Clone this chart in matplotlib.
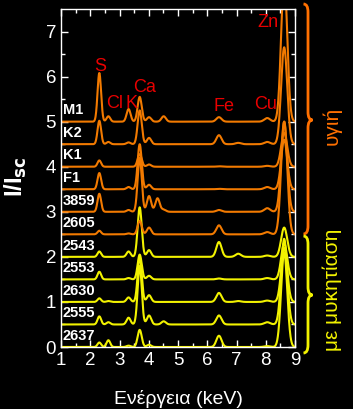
import matplotlib
matplotlib.use('Agg')
import matplotlib.pyplot as plt
from matplotlib.path import Path
from matplotlib.patches import PathPatch
import numpy as np

plt.rcParams['font.family'] = ['Liberation Sans', 'DejaVu Sans']

# sample names, vertical offsets, group
samples = ['M1', 'K2', 'K1', 'F1', '3859', '2605', '2543', '2553', '2630', '2555', '2637']
offsets = [5.0, 4.5, 4.0, 3.5, 3.0, 2.5, 2.0, 1.5, 1.0, 0.5, 0.0]
healthy = [True, True, True, True, True, True, False, False, False, False, False]

# peak energies (keV): S, Cl, K, Ca Ka, Ca Kb, ?, Ti, Fe, Fe Kb, Cu, Zn
peak_energy = [2.31, 2.62, 3.31, 3.69, 4.01, 4.30, 4.51, 6.40, 7.06, 8.05, 8.63]
# peak heights above baseline, one row per sample
peak_height = [
    [1.08, 0.12, 0.28, 0.55, 0.10, 0.00, 0.12, 0.10, 0.00, 0.08, 3.20],  # M1
    [0.52, 0.05, 0.04, 0.75, 0.14, 0.00, 0.00, 0.20, 0.03, 0.05, 2.15],  # K2
    [0.14, 0.00, 0.00, 0.28, 0.05, 0.00, 0.00, 0.01, 0.00, 0.02, 0.75],  # K1
    [0.36, 0.00, 0.05, 1.00, 0.10, 0.00, 0.00, 0.01, 0.00, 0.05, 1.10],  # F1
    [0.40, 0.00, 0.04, 1.20, 0.35, 0.30, 0.05, 0.04, 0.00, 0.08, 2.00],  # 3859
    [0.08, 0.00, 0.02, 0.30, 0.15, 0.00, 0.00, 0.20, 0.00, 0.05, 2.50],  # 2605
    [0.12, 0.00, 0.12, 1.10, 0.15, 0.00, 0.00, 0.33, 0.07, 0.03, 0.65],  # 2543
    [0.17, 0.00, 0.03, 0.55, 0.08, 0.00, 0.00, 0.02, 0.00, 0.03, 0.80],  # 2553
    [0.08, 0.02, 0.10, 1.00, 0.15, 0.00, 0.00, 0.20, 0.02, 0.03, 1.20],  # 2630
    [0.18, 0.05, 0.15, 1.30, 0.20, 0.00, 0.07, 0.20, 0.00, 0.05, 1.90],  # 2555
    [0.10, 0.15, 0.03, 0.38, 0.05, 0.00, 0.00, 0.25, 0.00, 0.02, 2.10],  # 2637
]

# element labels (red)
elements = ['S', 'Cl', 'K', 'Ca', 'Fe', 'Cu', 'Zn']
element_x = [2.33, 2.85, 3.42, 3.84, 6.57, 8.0, 8.08]
element_y = [6.23, 5.41, 5.41, 5.76, 5.34, 5.37, 7.2]

orange = '#F27A00'
yellow = '#F2F200'

fig = plt.figure(figsize=(3.53, 4.09), dpi=100, facecolor='black')
ax = fig.add_axes([61/353, 1-347/409, (295-61)/353, (347-9)/409])
ax.set_facecolor('black')

energy = np.linspace(1, 9, 1200)
for i in range(len(samples) - 1, -1, -1):
    y = np.full_like(energy, offsets[i])
    for e, h in zip(peak_energy, peak_height[i]):
        s = 0.045 + 0.0068 * e
        y += h * np.exp(-0.5 * ((energy - e) / s) ** 2)
    ax.plot(energy, y, color=orange if healthy[i] else yellow, lw=1.5)
    ax.text(1.06, offsets[i] + 0.25, samples[i], color='white', fontsize=10.5,
            fontweight='bold', va='center', ha='left')

for name, ex, ey in zip(elements, element_x, element_y):
    ax.text(ex, ey, name, color='#E80000', fontsize=13, ha='center', va='center')

ax.set_xlim(1, 9)
ax.set_ylim(0, 7.5)
ax.set_xticks(range(1, 10))
ax.set_yticks(range(0, 8))
ax.set_xticks(np.arange(1.5, 9, 1), minor=True)
ax.set_yticks(np.arange(0.5, 7.5, 1), minor=True)
ax.tick_params(which='both', direction='in', colors='white', top=True, right=True,
               labelsize=13.5, width=1)
ax.tick_params(which='major', length=5)
ax.tick_params(which='minor', length=3)
for sp in ax.spines.values():
    sp.set_color('white')
    sp.set_linewidth(1)

ax.set_xlabel('Ενέργεια (keV)', color='white', fontsize=14, labelpad=15)
fig.text(16/353, 1-177/409, 'I/I$_{\\mathbf{sc}}$', color='white', fontsize=17,
         fontweight='bold', rotation=90, ha='center', va='center')


def brace(x0, ytop, ybot, ymid, w, r, color):
    # pixel coords -> figure fraction
    W, H = 353.0, 409.0
    pts = [(x0 - w/2, ytop), (x0, ytop), (x0, ytop + r),
           (x0, ymid - r), (x0, ymid), (x0 + w/2, ymid),
           (x0, ymid), (x0, ymid + r),
           (x0, ybot - r), (x0, ybot), (x0 - w/2, ybot)]
    codes = [Path.MOVETO, Path.CURVE3, Path.CURVE3, Path.LINETO,
             Path.CURVE3, Path.CURVE3, Path.CURVE3, Path.CURVE3,
             Path.LINETO, Path.CURVE3, Path.CURVE3]
    verts = [(px / W, 1 - py / H) for px, py in pts]
    fig.add_artist(PathPatch(Path(verts, codes), transform=fig.transFigure,
                             fill=False, edgecolor=color, lw=2))


brace(308, 4, 234, 120, 9, 8, '#FF7000')
brace(308, 236, 353, 295, 9, 8, '#F2F200')
fig.text(332/353, 1-126/409, 'υγιή', color='#FF7000', fontsize=15,
         rotation=90, ha='center', va='center')
fig.text(332/353, 1-290/409, 'με μυκητίαση', color='#F2F200', fontsize=15,
         rotation=90, ha='center', va='center')

fig.savefig('out.png', dpi=100, facecolor='black')
